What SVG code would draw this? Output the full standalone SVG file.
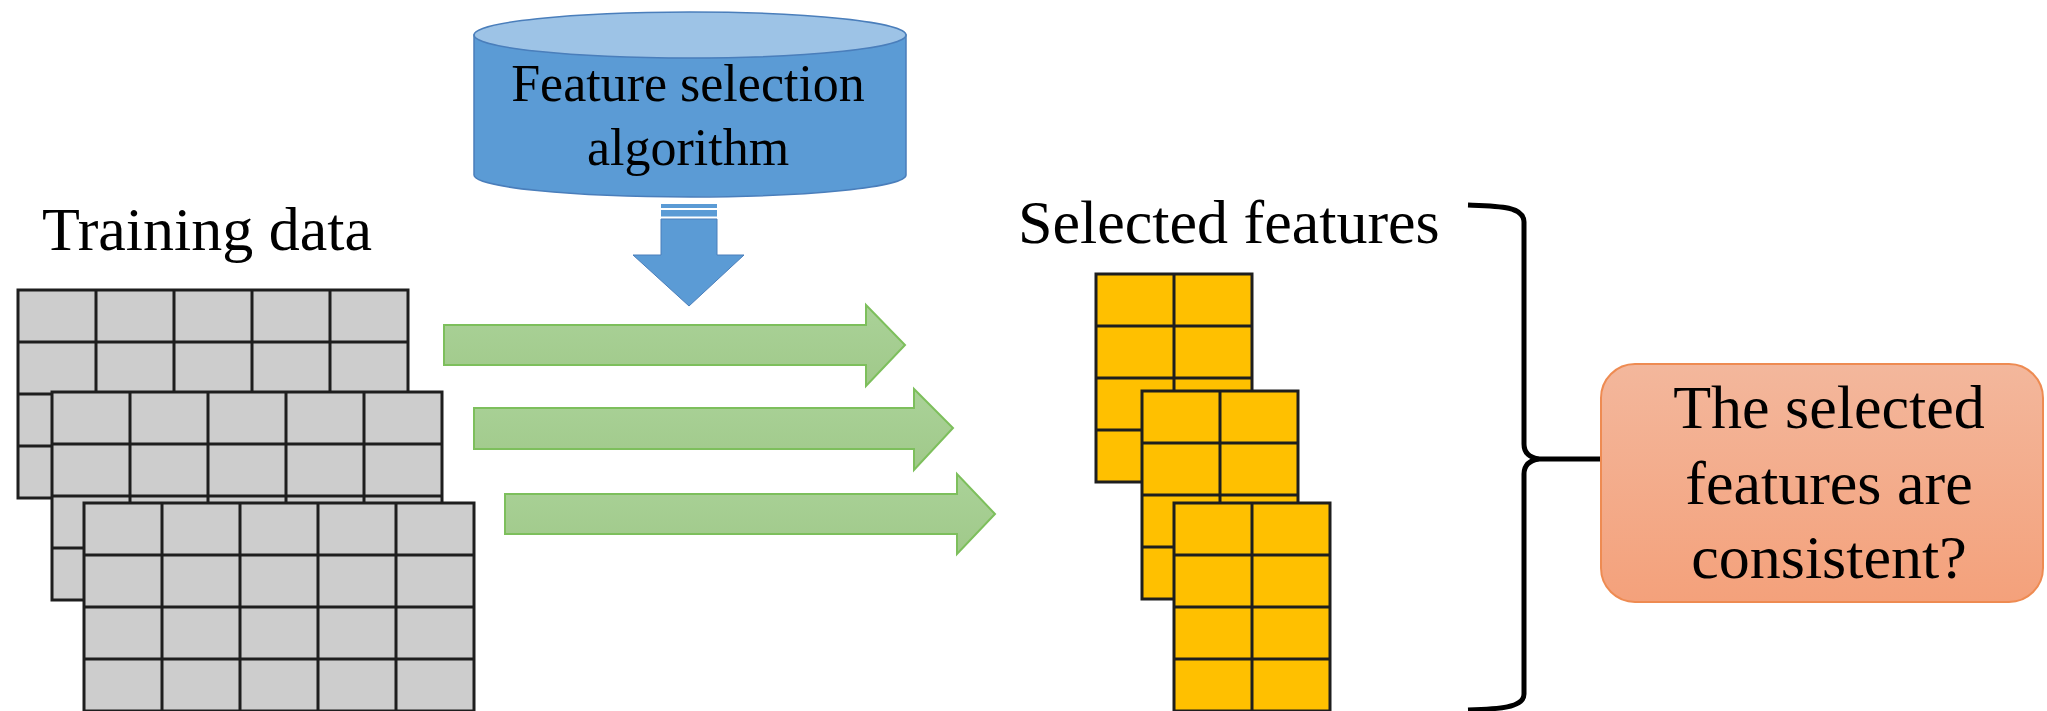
<svg xmlns="http://www.w3.org/2000/svg" xmlns:xlink="http://www.w3.org/1999/xlink" width="2047" height="711" viewBox="0 0 2047 711">
<style>
.lbl{font-family:"Liberation Serif","Times New Roman",serif;fill:#000}
.gray{fill:#CDCDCD;stroke:#1E1E1E;stroke-width:3}
.yel{fill:#FFC000;stroke:#1E1E1E;stroke-width:3}
.gl{stroke:#1E1E1E;stroke-width:3;fill:none}
.garrow{fill:url(#gGreen);stroke:#7DBF5C;stroke-width:2}
.blue{fill:#5B9BD5;stroke:#4A7EBB;stroke-width:1.5}
.brace{fill:none;stroke:#000;stroke-width:5;stroke-linejoin:round}
</style>
<defs>
<linearGradient id="gGreen" x1="0" y1="0" x2="0" y2="1">
<stop offset="0" stop-color="#AAD298"/>
<stop offset="1" stop-color="#A0C98A"/>
</linearGradient>
<linearGradient id="gOrange" x1="0" y1="0" x2="0" y2="1">
<stop offset="0" stop-color="#F3B79C"/>
<stop offset="1" stop-color="#F4A17B"/>
</linearGradient>
<g id="grayGrid">
<rect class="gray" x="0" y="0" width="390" height="208"/>
<path class="gl" d="M78,0V208M156,0V208M234,0V208M312,0V208M0,52H390M0,104H390M0,156H390"/>
</g>
<g id="yelGrid">
<rect class="yel" x="0" y="0" width="156" height="208"/>
<path class="gl" d="M78,0V208M0,52H156M0,104H156M0,156H156"/>
</g>
</defs>

<g id="algorithm">
<path class="blue" d="M474,35 L474,175 A216,22 0 0 0 906,175 L906,35 Z"/>
<ellipse cx="690" cy="35" rx="216" ry="23" fill="#9DC3E6" stroke="#4A7EBB" stroke-width="1.5"/>
<text class="lbl" x="688" y="101" font-size="52" text-anchor="middle">Feature selection</text>
<text class="lbl" x="688" y="165" font-size="52" text-anchor="middle">algorithm</text>
</g>

<g id="down-arrow">
<rect x="661" y="204" width="56" height="4" fill="#5B9BD5"/>
<rect x="661" y="210" width="56" height="6.5" fill="#5B9BD5"/>
<path fill="#5B9BD5" stroke="#4A7EBB" stroke-width="1" d="M661,219 H717 V255 H744 L689,306 L633,255 H661 Z"/>
</g>

<g id="training-data">
<text class="lbl" x="42" y="250" font-size="62">Training data</text>
<use xlink:href="#grayGrid" x="18" y="290"/>
<use xlink:href="#grayGrid" x="52" y="392"/>
<use xlink:href="#grayGrid" x="84" y="503"/>
</g>

<g id="connectors">
<path class="garrow" d="M444,325 H866 V305 L905,345 L866,386 V365 H444 Z"/>
<path class="garrow" d="M474,408 H914 V389 L953,428 L914,470 V449 H474 Z"/>
<path class="garrow" d="M505,494 H957 V474 L995,514 L957,554 V534 H505 Z"/>
<path class="brace" d="M1468,205 C1498,206 1524,206 1524,222 V444 C1524,452 1528,457 1538,459 C1528,461 1524,466 1524,474 V694 C1524,708 1498,709 1468,710"/>
<path class="brace" d="M1536,459 H1602"/>
</g>

<g id="selected-features">
<text class="lbl" x="1018" y="243" font-size="62">Selected features</text>
<use xlink:href="#yelGrid" x="1096" y="274"/>
<use xlink:href="#yelGrid" x="1142" y="391"/>
<use xlink:href="#yelGrid" x="1174" y="503"/>
</g>

<g id="question">
<rect x="1601" y="364" width="442" height="238" rx="34" fill="url(#gOrange)" stroke="#EE8B52" stroke-width="2"/>
<text class="lbl" x="1829" y="428" font-size="62" text-anchor="middle">The selected</text>
<text class="lbl" x="1829" y="504" font-size="62" text-anchor="middle">features are</text>
<text class="lbl" x="1829" y="578" font-size="62" text-anchor="middle">consistent?</text>
</g>
</svg>
